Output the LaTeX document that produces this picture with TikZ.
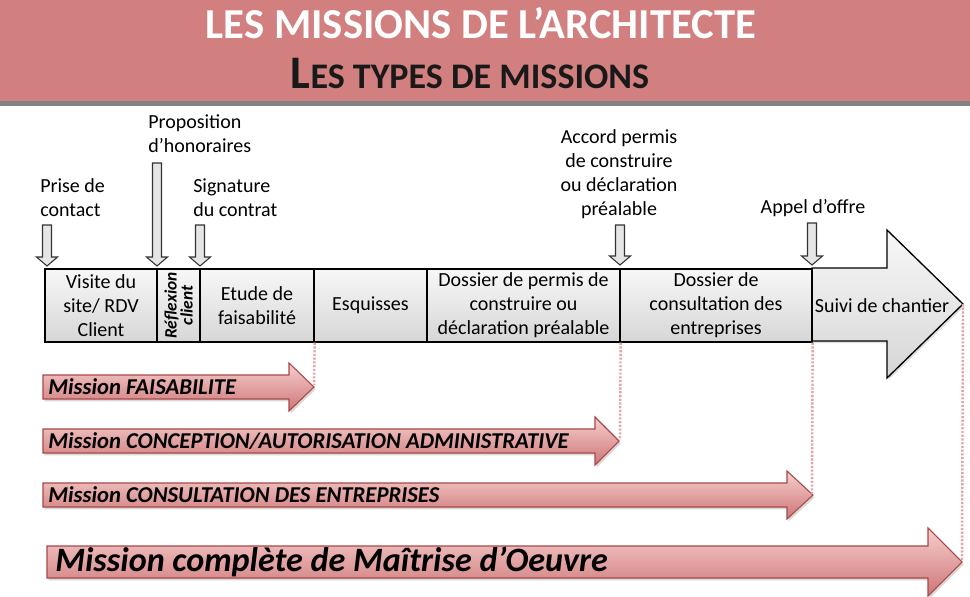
\documentclass[tikz,border=0pt]{standalone}
\usepackage{fontspec}
\setmainfont{Carlito}
\usetikzlibrary{shadows}
\definecolor{hdr}{RGB}{209,127,127}
\definecolor{hdrline}{RGB}{130,130,130}
\definecolor{mborder}{RGB}{168,72,72}
\definecolor{mtop}{RGB}{246,206,206}
\definecolor{mbot}{RGB}{206,118,118}
\definecolor{dotpink}{RGB}{226,164,164}
\tikzset{
  tbox/.style={draw=black, line width=1pt, top color=gray!6, bottom color=gray!32,
    minimum height=54.75pt, inner sep=1pt, align=center,
    font=\fontsize{15}{18}\selectfont},
  bigarr/.style={draw=black, line width=1pt, top color=gray!6, bottom color=gray!32,
    drop shadow={opacity=0.25, shadow xshift=1.2pt, shadow yshift=-1.5pt}},
  darr/.style={draw=black!80, line width=0.8pt, fill=gray!20},
  lbl/.style={inner sep=0pt, font=\fontsize{15}{18}\selectfont},
  mission/.style={draw=mborder, line width=0.8pt, top color=mtop, bottom color=mbot,
    drop shadow={opacity=0.3, shadow xshift=1.2pt, shadow yshift=-1.8pt}},
  mtext/.style={inner sep=0pt, anchor=west, font=\fontsize{17}{17}\selectfont\bfseries\itshape},
  dotline/.style={draw=dotpink, line width=1.8pt, dash pattern=on 1.6pt off 1.2pt}
}
\newcommand\mydownarrow[4]{%
  \path[darr] (#2-4.5,#3) -- (#2+4.5,#3) -- (#2+4.5,#4-9) -- (#2+10.5,#4-9) -- (#2,#4)
     -- (#2-10.5,#4-9) -- (#2-4.5,#4-9) -- cycle;
  \coordinate (#1) at (#2,#4);}
\begin{document}
\begin{tikzpicture}[x=0.75pt,y=-0.75pt]
\useasboundingbox (0,0) rectangle (970,596);
\fill[white] (0,0) rectangle (970,596);
% header
\fill[hdr] (0,0) rectangle (970,101);
\fill[hdrline] (0,101) rectangle (970,106);
\node[anchor=base, text=white, inner sep=0pt, font=\fontsize{32}{32}\selectfont\bfseries] (title) at (481,38) {LES MISSIONS DE L’ARCHITECTE};
\node[anchor=base, text=black!90, inner sep=0pt, font=\bfseries] (subtitle) at (470,88)
  {{\fontsize{35}{35}\selectfont L}{\fontsize{27}{27}\selectfont ES TYPES DE MISSIONS}};

% big arrow (Suivi de chantier)
\path[bigarr] (812,268) -- (887,268) -- (887,230) -- (963,304) -- (887,378) -- (887,341) -- (812,341) -- cycle;
\coordinate (bigtip) at (963,304);
\node[lbl] (suivi) at (882,306) {Suivi de chantier};

% timeline boxes
\node[tbox, minimum width=84pt] (b1) at (101,305.5) {Visite du\\site/ RDV\\Client};
\node[tbox, minimum width=32.25pt, minimum height=54.75pt] (b2) at (178.5,305.5) {};
\node[rotate=90, inner sep=0pt, align=center, font=\fontsize{13}{12}\selectfont\bfseries\itshape] (refl) at (b2.center) {Réflexion\\client};
\node[tbox, minimum width=85.5pt] (b3) at (257,305.5) {Etude de\\faisabilité};
\node[tbox, minimum width=84.75pt] (b4) at (370.5,305.5) {Esquisses};
\node[tbox, minimum width=144.75pt] (b5) at (523.5,305.5) {Dossier de permis de\\construire ou\\déclaration préalable};
\node[tbox, minimum width=144pt] (b6) at (716,305.5) {Dossier de\\consultation des\\entreprises};

% down arrows
\mydownarrow{a1}{47}{225}{266}
\mydownarrow{a2}{157}{163}{266}
\mydownarrow{a3}{200}{225}{266}
\mydownarrow{a4}{620}{225}{265}
\mydownarrow{a5}{812}{223}{265}

% labels
\node[lbl, anchor=west, align=left] (l1) at (40,198) {Prise de\\contact};
\node[lbl, anchor=west, align=left] (l2) at (148,134) {Proposition\\d’honoraires};
\node[lbl, anchor=west, align=left] (l3) at (193,198) {Signature\\du contrat};
\node[lbl, align=center] (l4) at (619,174) {Accord permis\\de construire\\ou déclaration\\préalable};
\node[lbl] (l5) at (813,208) {Appel d’offre};

% mission arrows
\path[mission] (43,375) -- (289,375) -- (289,363) -- (314,387) -- (289,411) -- (289,399) -- (43,399) -- cycle;
\coordinate (m1) at (314,385);
\node[mtext] (t1) at (48,387) {Mission FAISABILITE};

\path[mission] (43,429) -- (595,429) -- (595,417) -- (619,441) -- (595,465) -- (595,453) -- (43,453) -- cycle;
\coordinate (m2) at (620,440);
\node[mtext] (t2) at (48,441) {Mission CONCEPTION/AUTORISATION ADMINISTRATIVE};

\path[mission] (43,483) -- (787,483) -- (787,471) -- (813,495) -- (787,519) -- (787,507) -- (43,507) -- cycle;
\coordinate (m3) at (812,494);
\node[mtext] (t3) at (48,495) {Mission CONSULTATION DES ENTREPRISES};

\path[mission] (47,546) -- (928,546) -- (928,528) -- (962,562) -- (928,596) -- (928,578) -- (47,578) -- cycle;
\coordinate (m4) at (962,561);
\node[mtext, font=\fontsize{25.6}{25.6}\selectfont\bfseries\itshape] (t4) at (55,562) {Mission complète de Maîtrise d’Oeuvre};

% dotted connectors
\draw[dotline] (b3.south east) -- (m1);
\draw[dotline] (b5.south east) -- (m2);
\draw[dotline] (b6.south east) -- (m3);
\draw[dotline] (bigtip) -- (m4);
\end{tikzpicture}
\end{document}
